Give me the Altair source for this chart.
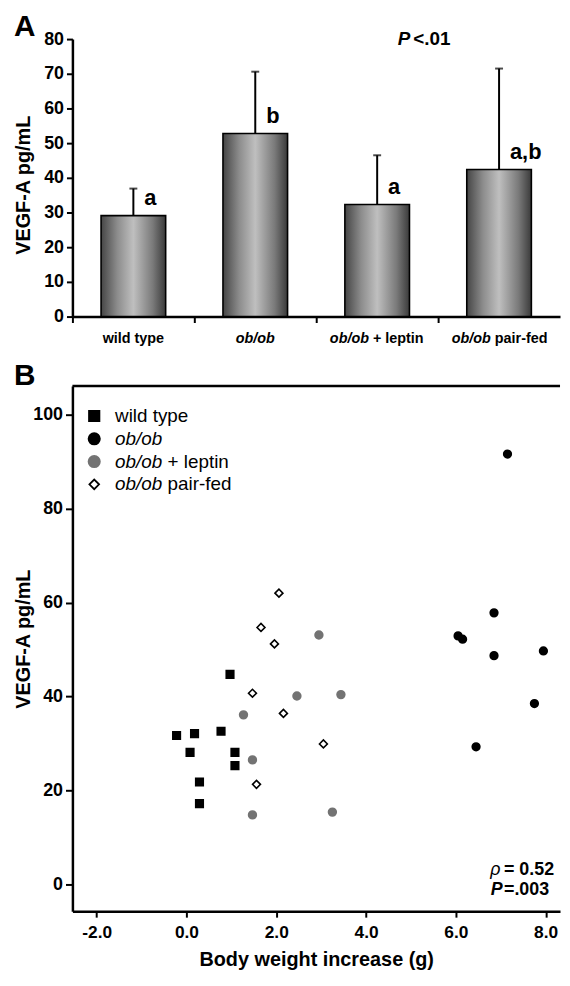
import altair as alt
import pandas as pd

FONT = "Liberation Sans"

# ---------------- Panel A data ----------------
groups = ["wild type", "ob/ob", "ob/ob + leptin", "ob/ob pair-fed"]
mean_vegf = [29.1, 52.8, 32.3, 42.4]
upper_vegf = [36.9, 70.6, 46.5, 71.5]
sig_letters = ["a", "b", "a", "a,b"]
yA_ticks = [0, 10, 20, 30, 40, 50, 60, 70, 80]
p_text_A = ["P", "<.01"]

# ---------------- Panel B data ----------------
wt_x = [-0.22, 0.18, 0.08, 0.29, 0.29, 0.77, 0.97, 1.08, 1.08]
wt_y = [31.7, 32.1, 28.1, 21.8, 17.2, 32.6, 44.7, 28.1, 25.3]
ob_x = [7.15, 6.85, 6.05, 6.15, 6.85, 7.95, 7.75, 6.45]
ob_y = [91.6, 57.8, 52.9, 52.2, 48.7, 49.7, 38.5, 29.3]
lep_x = [2.95, 2.46, 3.44, 1.27, 1.47, 1.47, 3.25]
lep_y = [53.1, 40.1, 40.4, 36.1, 26.5, 14.8, 15.4]
pf_x = [2.06, 1.66, 1.96, 1.47, 2.16, 3.05, 1.56]
pf_y = [62.0, 54.7, 51.2, 40.7, 36.4, 29.9, 21.3]
xB_ticks = [-2, 0, 2, 4, 6, 8]
yB_ticks = [0, 20, 40, 60, 80, 100]
rho_text = ["ρ", "= 0.52"]
p_text_B = ["P", "=.003"]

# ---------------- styles ----------------
shapes = ["square", "circle", "circle", "diamond"]
fills = ["black", "black", "#737373", "white"]
strokes = ["black", "black", "#737373", "black"]
pt_sizes = [58, 64, 60, 105]
leg_sizes = [110, 130, 130, 95]

WA, HA = 492, 280
WB, HB = 492, 530

ax_common = dict(domainColor="black", domainWidth=2.5, tickColor="black", tickWidth=2,
                 labelColor="black", labelFont=FONT, labelFontWeight="bold",
                 titleFont=FONT, titleFontWeight="bold", titleColor="black", grid=False)


def txt(s, x, y, size, style="normal", weight="bold", align="left", baseline="middle"):
    return alt.Chart(pd.DataFrame({"t": [s]})).mark_text(
        font=FONT, fontSize=size, fontStyle=style, fontWeight=weight,
        align=align, baseline=baseline, color="black"
    ).encode(text="t:N", x=alt.value(x), y=alt.value(y))


# ================= Panel A =================
dfA = pd.DataFrame({"group": groups, "mean": mean_vegf, "upper": upper_vegf, "letter": sig_letters})

xA = alt.X("group:N", sort=groups, scale=alt.Scale(paddingInner=0, paddingOuter=0),
           axis=alt.Axis(title=None, labels=False, bandPosition=0, tickSize=6, **ax_common))
axA_y = alt.Axis(values=yA_ticks, title="VEGF-A pg/mL", titleFontSize=20, labelFontSize=18,
                 tickSize=6, labelPadding=3, titleX=-49, titleY=147, titleBaseline="middle",
                 titleAngle=-90, titleAlign="center", **ax_common)
yscaleA = alt.Scale(domain=[0, 80], nice=False, zero=True)

bar_fill = alt.LinearGradient(
    gradient="linear", x1=0, x2=1, y1=0, y2=0,
    stops=[alt.GradientStop(color="#454545", offset=0),
           alt.GradientStop(color="#8c8c8c", offset=0.25),
           alt.GradientStop(color="#bfbfbf", offset=0.5),
           alt.GradientStop(color="#7a7a7a", offset=0.8),
           alt.GradientStop(color="#3a3a3a", offset=1)])

baseA = alt.Chart(dfA)
bars = baseA.mark_bar(color=bar_fill, stroke="black", strokeWidth=1.6,
                      width=alt.RelativeBandSize(0.53)).encode(
    x=xA, y=alt.Y("mean:Q", scale=yscaleA, axis=axA_y))
err = baseA.mark_rule(color="black", strokeWidth=2).encode(
    x=xA, y=alt.Y("mean:Q", scale=yscaleA, axis=axA_y), y2="upper:Q")
cap = baseA.mark_tick(color="black", orient="horizontal", size=8, thickness=2).encode(
    x=xA, y=alt.Y("upper:Q", scale=yscaleA, axis=axA_y))
letters = baseA.mark_text(font=FONT, fontSize=22, fontWeight="bold", align="left",
                          baseline="middle", dx=11, dy=-18, color="black").encode(
    x=xA, y=alt.Y("mean:Q", scale=yscaleA, axis=axA_y), text="letter:N")

lab_rows = []
for g in groups:
    if g.startswith("ob/ob "):
        lab_rows.append({"group": g, "kind": "two", "ital": "ob/ob", "rest": g[len("ob/ob "):]})
    elif g == "ob/ob":
        lab_rows.append({"group": g, "kind": "ital", "ital": g, "rest": ""})
    else:
        lab_rows.append({"group": g, "kind": "plain", "ital": "", "rest": g})
dfLab = pd.DataFrame(lab_rows)
labY = HA + 23
lab_kw = dict(font=FONT, fontSize=14.5, fontWeight="bold", baseline="middle", color="black")
baseLab = alt.Chart(dfLab)
lab_plain = baseLab.transform_filter(alt.datum.kind == "plain").mark_text(
    align="center", **lab_kw).encode(x=xA, y=alt.value(labY), text="rest:N")
lab_ital = baseLab.transform_filter(alt.datum.kind == "ital").mark_text(
    align="center", fontStyle="italic", **lab_kw).encode(x=xA, y=alt.value(labY), text="ital:N")
lab_two_i = baseLab.transform_filter(alt.datum.kind == "two").mark_text(
    align="right", fontStyle="italic", dx=-8.3, **lab_kw).encode(x=xA, y=alt.value(labY), text="ital:N")
lab_two_r = baseLab.transform_filter(alt.datum.kind == "two").mark_text(
    align="left", dx=-4.3, **lab_kw).encode(x=xA, y=alt.value(labY), text="rest:N")

pA1 = txt(p_text_A[0], 341, 0, 19, style="italic", align="right")
pA2 = txt(p_text_A[1], 344, 0, 19, align="left")
letterA = txt("A", -59, -3, 30, align="left", baseline="alphabetic")

panelA = alt.layer(bars, err, cap, letters, lab_plain, lab_ital, lab_two_i, lab_two_r,
                   pA1, pA2, letterA).properties(
    width=WA, height=HA, view=alt.ViewBackground(strokeWidth=0))

# ================= Panel B =================
rows = []
for gx, gy, g in [(wt_x, wt_y, groups[0]), (ob_x, ob_y, groups[1]),
                  (lep_x, lep_y, groups[2]), (pf_x, pf_y, groups[3])]:
    for a, b in zip(gx, gy):
        rows.append({"bw": a, "vegf": b, "group": g})
dfB = pd.DataFrame(rows)

xscaleB = alt.Scale(domain=[-2.54, 8.32], nice=False, zero=False)
xB = alt.X("bw:Q", scale=xscaleB,
           axis=alt.Axis(values=xB_ticks, orient="bottom",
                         labelExpr="(datum.value < 0 ? '-' : '') + format(abs(datum.value), '.1f')",
                         title="Body weight increase (g)", titleFontSize=20, labelFontSize=17.5,
                         tickSize=6, labelPadding=7, titlePadding=8, **ax_common))
yB = alt.Y("vegf:Q", scale=alt.Scale(domain=[-5.7, 106.1], nice=False, zero=False),
           axis=alt.Axis(values=yB_ticks, title="VEGF-A pg/mL", titleFontSize=20, labelFontSize=18,
                         tickSize=7, labelPadding=3, titleX=-49, titleY=255, titleBaseline="middle",
                         titleAngle=-90, titleAlign="center", **ax_common))

pts = alt.Chart(dfB).mark_point(filled=True, opacity=1, strokeWidth=1.6).encode(
    x=xB, y=yB,
    shape=alt.Shape("group:N", scale=alt.Scale(domain=groups, range=shapes), legend=None),
    fill=alt.Fill("group:N", scale=alt.Scale(domain=groups, range=fills), legend=None),
    stroke=alt.Stroke("group:N", scale=alt.Scale(domain=groups, range=strokes), legend=None),
    size=alt.Size("group:N", scale=alt.Scale(domain=groups, range=pt_sizes), legend=None),
)
# top border of the panel-B frame
frame_top = alt.Chart(pd.DataFrame({"f": [0]})).mark_rule(
    color="black", strokeWidth=2.5).encode(x=alt.value(0), x2=alt.value(WB), y=alt.value(0))

leg_rows_y = [30.3, 53.3, 76.3, 99.3]
legend_layers = []
for i, g in enumerate(groups):
    ly = leg_rows_y[i]
    legend_layers.append(
        alt.Chart(pd.DataFrame({"g": [g]})).mark_point(
            shape=shapes[i], size=leg_sizes[i], filled=True, fill=fills[i], stroke=strokes[i],
            strokeWidth=1.8, opacity=1).encode(x=alt.value(22), y=alt.value(ly)))
    if g.startswith("ob/ob"):
        legend_layers.append(txt("ob/ob", 43, ly, 19, style="italic", weight="normal"))
        rest = g[len("ob/ob"):].strip()
        if rest:
            legend_layers.append(txt(rest, 96, ly, 19, weight="normal"))
    else:
        legend_layers.append(txt(g, 43, ly, 19, weight="normal"))

rho1 = txt(rho_text[0], 432, HB - 42, 18, style="italic", weight="normal", align="right")
rho2 = txt(rho_text[1], 486, HB - 42, 18, align="right")
pB1 = txt(p_text_B[0], 434, HB - 21, 18, style="italic", align="right")
pB2 = txt(p_text_B[1], 481, HB - 21, 18, align="right")
letterB = txt("B", -59, -1, 30, align="left", baseline="alphabetic")

panelB = alt.layer(pts, frame_top, *legend_layers, rho1, rho2, pB1, pB2, letterB).properties(
    width=WB, height=HB, view=alt.ViewBackground(strokeWidth=0))

chart = alt.vconcat(panelA, panelB, spacing=15).properties(
    padding={"left": 6, "top": 0, "right": 0, "bottom": 0})

chart.save("out.html", embed_options={"renderer": "svg", "actions": False})
